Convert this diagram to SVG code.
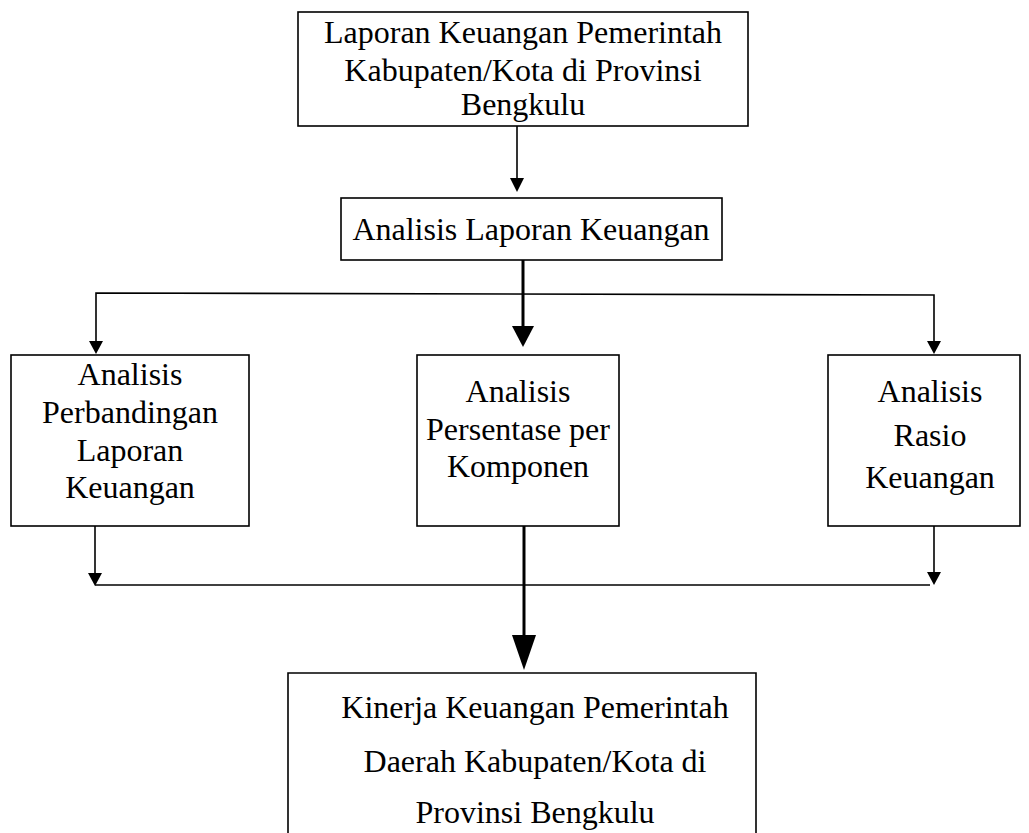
<svg xmlns="http://www.w3.org/2000/svg" width="1029" height="833" viewBox="0 0 1029 833">
<style>
.box{fill:#fff;stroke:#000;stroke-width:1.6}
.t{font-family:"Liberation Serif","Times New Roman",serif;font-size:32px;fill:#000;text-anchor:middle}
.ln{stroke:#000;stroke-width:1.6;fill:none}
.thk{stroke:#000;stroke-width:3;fill:none}
.ah{fill:#000}
</style>
<rect width="1029" height="833" fill="#fff"/>
<g id="connectors">
<line class="ln" x1="517" y1="126" x2="517" y2="180"/>
<polygon class="ah" points="510,178 524,178 517,192"/>
<line class="thk" x1="523" y1="260" x2="523" y2="330"/>
<polygon class="ah" points="512,326 534,326 523,347"/>
<polyline class="ln" points="96,342 96,293 934,295 934,342"/>
<polygon class="ah" points="89,341 103,341 96,354"/>
<polygon class="ah" points="927,341 941,341 934,354"/>
<line class="ln" x1="95" y1="526" x2="95" y2="575"/>
<polygon class="ah" points="88,573 102,573 95,586"/>
<line class="ln" x1="934" y1="526" x2="934" y2="575"/>
<polygon class="ah" points="927,572 941,572 934,585"/>
<line class="ln" x1="95" y1="585" x2="930" y2="585"/>
<line class="thk" x1="524" y1="526" x2="524" y2="640"/>
<polygon class="ah" points="512,635 536,635 524,670"/>
</g>
<g id="n1">
<rect class="box" x="298" y="12" width="450" height="114"/>
<text class="t" x="523" y="43">Laporan Keuangan Pemerintah</text>
<text class="t" x="523" y="81">Kabupaten/Kota di Provinsi</text>
<text class="t" x="523" y="115">Bengkulu</text>
</g>
<g id="n2">
<rect class="box" x="341" y="198" width="381" height="62"/>
<text class="t" x="531" y="240">Analisis Laporan Keuangan</text>
</g>
<g id="n3">
<rect class="box" x="11" y="355" width="238" height="171"/>
<text class="t" x="130" y="385">Analisis</text>
<text class="t" x="130" y="423">Perbandingan</text>
<text class="t" x="130" y="461">Laporan</text>
<text class="t" x="130" y="498">Keuangan</text>
</g>
<g id="n4">
<rect class="box" x="417" y="355" width="202" height="171"/>
<text class="t" x="518" y="402">Analisis</text>
<text class="t" x="518" y="440">Persentase per</text>
<text class="t" x="518" y="477">Komponen</text>
</g>
<g id="n5">
<rect class="box" x="828" y="355" width="192" height="171"/>
<text class="t" x="930" y="402">Analisis</text>
<text class="t" x="930" y="446">Rasio</text>
<text class="t" x="930" y="488">Keuangan</text>
</g>
<g id="n6">
<polyline class="ln" points="288,833 288,673 756,673 756,833"/>
<text class="t" x="535" y="718">Kinerja Keuangan Pemerintah</text>
<text class="t" x="535" y="772">Daerah Kabupaten/Kota di</text>
<text class="t" x="535" y="823">Provinsi Bengkulu</text>
</g>
</svg>
